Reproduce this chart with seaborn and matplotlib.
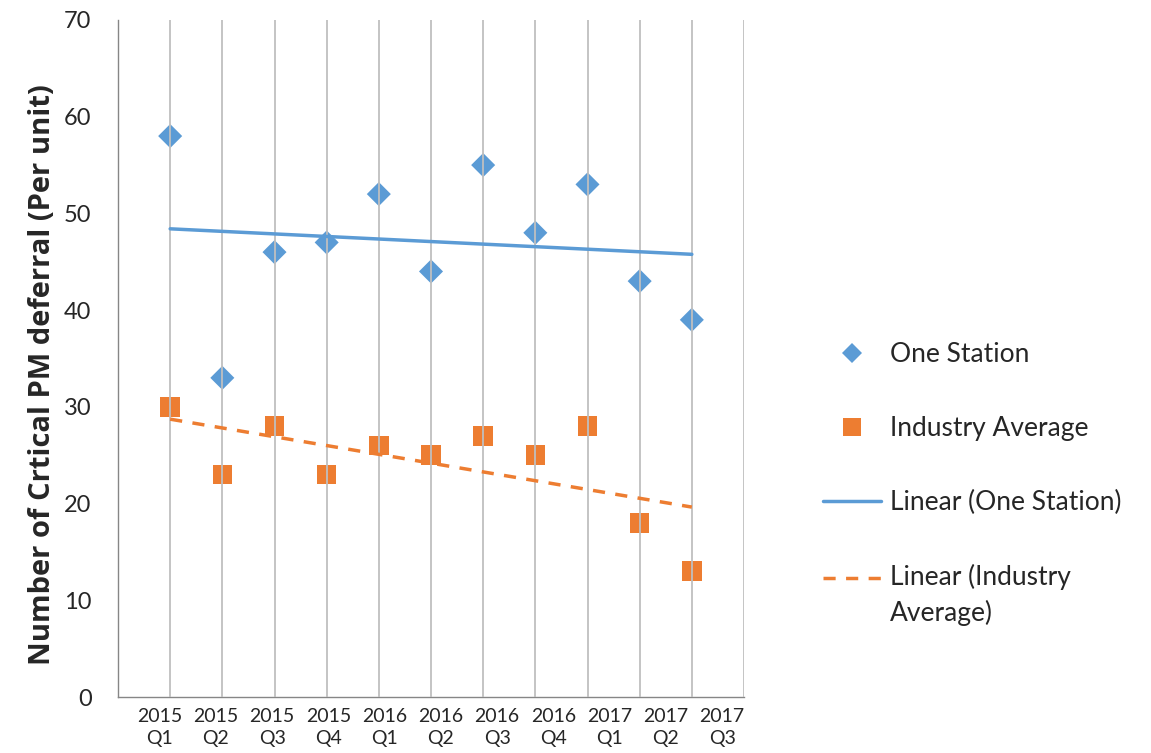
import numpy as np
import pandas as pd
import matplotlib
matplotlib.use("Agg")
import matplotlib.pyplot as plt
import matplotlib.transforms as mtransforms
from matplotlib.lines import Line2D
import seaborn as sns

# ---- data ----
quarters = ["2015\nQ1", "2015\nQ2", "2015\nQ3", "2015\nQ4", "2016\nQ1", "2016\nQ2",
            "2016\nQ3", "2016\nQ4", "2017\nQ1", "2017\nQ2", "2017\nQ3"]
one_station = [58, 33, 46, 47, 52, 44, 55, 48, 53, 43, 39]
industry_avg = [30, 23, 28, 23, 26, 25, 27, 25, 28, 18, 13]
y_ticks = [0, 10, 20, 30, 40, 50, 60, 70]

BLUE = "#5B9BD5"
ORANGE = "#ED7D31"
GRID = "#BFBFBF"
AXIS = "#868686"

sns.set_style("white")
plt.rcParams["font.family"] = ["Lato", "DejaVu Sans"]

idx = np.arange(1, len(quarters) + 1)
df = pd.DataFrame({"idx": idx, "one": one_station, "ind": industry_avg})

fig = plt.figure(figsize=(11.51, 7.53), dpi=100)
ax = fig.add_axes([118 / 1151, 1 - 697 / 753, (744 - 118) / 1151, (697 - 20) / 753])

sns.scatterplot(data=df, x="idx", y="one", marker="D", s=150, color=BLUE,
                edgecolor="none", ax=ax, zorder=1)
sns.scatterplot(data=df, x="idx", y="ind", marker="s", s=200, color=ORANGE,
                edgecolor="none", ax=ax, zorder=1)
sns.regplot(data=df, x="idx", y="one", scatter=False, ci=None, truncate=True, ax=ax,
            line_kws=dict(color=BLUE, lw=2.5, zorder=3))
sns.regplot(data=df, x="idx", y="ind", scatter=False, ci=None, truncate=True, ax=ax,
            line_kws=dict(color=ORANGE, lw=2.5, ls=(0, (3.5, 3)), zorder=3))

ax.set_xlim(0, 12)
ax.set_ylim(0, 70)
ax.set_yticks(y_ticks)
ax.xaxis.remove_overlapping_locs = False
ax.set_xticks(np.arange(0, 13, 2))
ax.set_xticklabels([])
ax.set_xticks(np.arange(1, 13), minor=True)
ax.grid(False)
ax.grid(True, which="minor", axis="x", color=GRID, lw=1.3, zorder=2.5)
ax.set_axisbelow(False)
ax.tick_params(axis="x", which="major", direction="out", length=6, color=AXIS, width=1)
ax.tick_params(axis="x", which="minor", length=0)
ax.tick_params(axis="y", direction="out", length=6, color=AXIS, width=1,
               labelsize=17, pad=13)
for s in ["top", "right"]:
    ax.spines[s].set_visible(False)
for s in ["left", "bottom"]:
    ax.spines[s].set_color(AXIS)
    ax.spines[s].set_linewidth(1)

# category labels (text boxes, slightly irregular spacing as in source)
trans = mtransforms.blended_transform_factory(ax.transData, ax.transAxes)
for i, lab in enumerate(quarters):
    ax.text(0.8 + 1.078 * i, -0.016, lab, transform=trans, ha="center", va="top",
            fontsize=14, linespacing=1.4)

ax.set_xlabel("")
ax.set_ylabel("Number of Crtical PM deferral (Per unit)", fontsize=21,
              fontweight="bold", family=["Open Sans", "DejaVu Sans"], labelpad=5)
ax.yaxis.label.set_y(0.476)

handles = [
    Line2D([], [], marker="D", color=BLUE, ls="none", markersize=10, markeredgewidth=0),
    Line2D([], [], marker="s", color=ORANGE, ls="none", markersize=13, markeredgewidth=0),
    Line2D([], [], color=BLUE, lw=2.5),
    Line2D([], [], color=ORANGE, lw=2.5, ls=(0, (3.5, 3))),
]
labels = ["One Station", "Industry Average", "Linear (One Station)",
          "Linear (Industry\nAverage)"]
leg = fig.legend(handles, labels, loc="center left",
                 bbox_to_anchor=(799 / 1151, 1 - 484 / 753),
                 frameon=False, fontsize=19, handlelength=2.2, handletextpad=0.35,
                 labelspacing=1.85)
for t in leg.get_texts():
    t.set_linespacing(1.45)
# align the two-line entry's sample with its first text line (as in source)
last = leg.legend_handles[3]
last.set_ydata(np.asarray(last.get_ydata()) + 12.5)

fig.savefig("out.png", dpi=100)
